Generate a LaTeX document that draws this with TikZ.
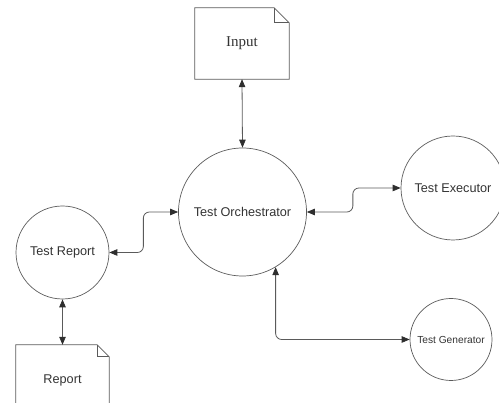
\documentclass[tikz,border=0pt]{standalone}
\usepackage{fontspec}
\setmainfont{Liberation Serif}
\newfontfamily\sansf{Liberation Sans}
\usetikzlibrary{arrows.meta,calc}
\definecolor{linec}{HTML}{5A5A5A}
\definecolor{textc}{HTML}{333333}
\definecolor{tipc}{HTML}{2E2E2E}
\tikzset{
  proc/.style={circle, draw=linec, line width=0.7pt, inner sep=0pt, text=textc,
    font=\sansf\fontsize{12.7}{15}\selectfont},
  docnode/.style={rectangle, draw=none, inner sep=0pt, text=textc},
  docline/.style={draw=linec, line width=0.7pt, line join=miter},
  conn/.style={draw=linec, line width=0.8pt, rounded corners=6pt,
    {Triangle[length=8pt,width=6.5pt,color=tipc]}-{Triangle[length=8pt,width=6.5pt,color=tipc]}}
}
\begin{document}
\begin{tikzpicture}[x=1pt,y=-1pt]
\useasboundingbox (0,0) rectangle (499,403);
\clip (0,0) rectangle (499,403);
% documents
\node[docnode, minimum width=94pt, minimum height=71pt,
  font=\fontsize{15}{18}\selectfont] (input) at (242,43.5) {Input};
\node[docnode, minimum width=93pt, minimum height=70pt,
  font=\sansf\fontsize{12.7}{15}\selectfont] (rep) at (62.5,380) {Report};
% document outlines with folded corner
\draw[docline] (input.south west) -- (input.north west) -- ([xshift=-15pt]input.north east)
  -- ([yshift=-15pt]input.north east) -- (input.south east) -- cycle;
\draw[docline] ([xshift=-15pt]input.north east) |- ([yshift=-15pt]input.north east);
\draw[docline] (rep.south west) -- (rep.north west) -- ([xshift=-12pt]rep.north east)
  -- ([yshift=-12pt]rep.north east) -- (rep.south east);
\draw[docline] ([xshift=-12pt]rep.north east) |- ([yshift=-12pt]rep.north east);
% processes
\node[proc, minimum size=128pt] (orch) at (242.5,212) {Test Orchestrator};
\node[proc, minimum size=104pt] (exec) at (453,188) {Test Executor};
\node[proc, minimum size=93pt] (trep) at (62.5,252.5) {Test Report};
\node[proc, minimum size=82pt, font=\sansf\fontsize{10.2}{12}\selectfont] (gen) at (451,339.5) {Test Generator};
% connectors
\draw[conn] (input.south) -- (orch.north);
\draw[conn] (orch.east) -- ++(46,0) |- (exec.west);
\draw[conn] (trep.east) -- ++(34,0) |- (orch.west);
\draw[conn] (orch.-59.4) |- (gen.west);
\draw[conn] (trep.south) -- (rep.north);
\end{tikzpicture}
\end{document}
